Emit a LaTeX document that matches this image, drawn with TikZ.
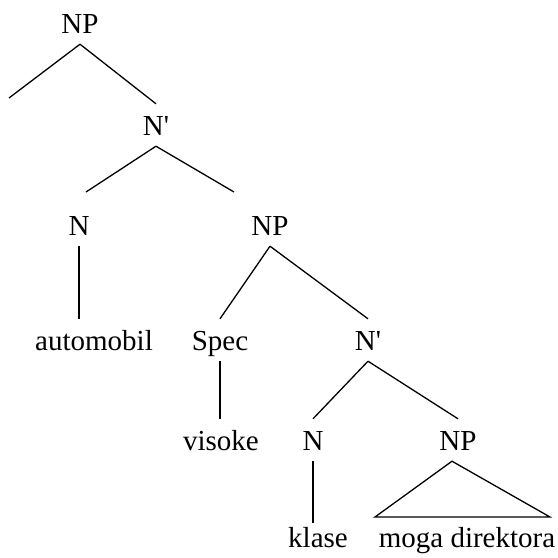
\documentclass[tikz,border=0pt]{standalone}
\usepackage{fontspec}
\setmainfont{Liberation Serif}[Ligatures=TeXOff]
\begin{document}
\begin{tikzpicture}[x=1pt, y=-1pt,
    cat/.style={anchor=base, inner xsep=0pt, inner ysep=11pt, text height=20pt, text depth=0pt, font=\fontsize{29}{34}\selectfont},
    branch/.style={line width=1.3pt}]
    \useasboundingbox (0,0) rectangle (558,558);

    \node[cat] (np1) at (80,33) {NP};
    \node[cat] (nbar1) at (156,135) {N'};

    \node[cat] (n1) at (79,235) {N};
    \node[cat] (np2) at (270,235) {NP};

    \node[cat] (auto) at (94,350) {automobil};
    \node[cat] (spec) at (220,350) {Spec};
    \node[cat] (nbar2) at (368,350) {N'};

    \node[cat] (vis) at (221,450) {visoke};
    \node[cat] (n3) at (313,450) {N};
    \node[cat] (np3) at (458,450) {NP};

    \node[cat] (klase) at (318,547) {klase};
    \node[cat] (dir) at (467,547) {moga direktora};

    % free ends of the branches
    \coordinate (np1-l) at (9,98);
    \coordinate (nbar1-l) at (86,192);
    \coordinate (nbar1-r) at (234,192);
    \coordinate (tri-l) at (375,517);
    \coordinate (tri-r) at (550,517);

    \draw[branch] (np1.south) -- (np1-l);
    \draw[branch] (np1.south) -- (nbar1.north);
    \draw[branch] (nbar1.south) -- (nbar1-l);
    \draw[branch] (nbar1.south) -- (nbar1-r);
    \draw[branch] (n1.south) -- (n1.south |- auto.north);

    \draw[branch] (np2.south) -- (spec.north);
    \draw[branch] (np2.south) -- (nbar2.north);
    \draw[branch] (spec.south) -- (spec.south |- vis.north);
    \draw[branch] (nbar2.south) -- (n3.north);
    \draw[branch] (nbar2.south) -- (np3.north);

    \draw[branch, shorten >=-7pt] (n3.south) -- (n3.south |- klase.north);
    \draw[branch] ([xshift=-6pt]np3.south) -- (tri-l) -- (tri-r) -- cycle;
\end{tikzpicture}
\end{document}
